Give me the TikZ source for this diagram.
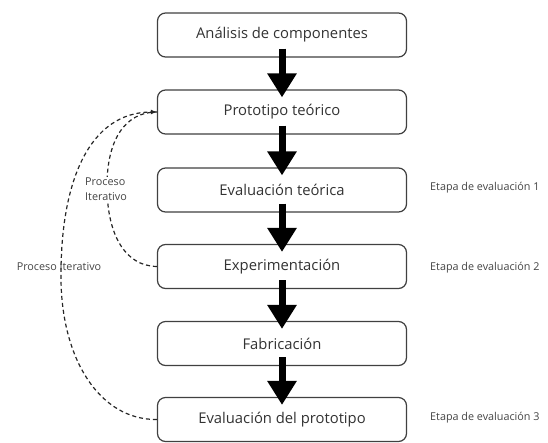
\documentclass[tikz,border=0pt]{standalone}
\usepackage{fontspec}
\setmainfont{Open Sans}
\usetikzlibrary{arrows.meta}
\definecolor{boxtext}{HTML}{333333}
\definecolor{lbl}{HTML}{444444}
\tikzset{
  stepbox/.style={draw=black!75, line width=1.2pt, rounded corners=8pt, fill=white,
    minimum width=249pt, minimum height=44pt, inner sep=0pt,
    font=\fontsize{14.8}{16}\selectfont, text=boxtext},
  bigarrow/.style={line width=7pt, -{Triangle[width=28pt,length=24pt]}, black},
  loop/.style={dash pattern=on 4pt off 3pt, line width=1.2pt, black!85},
  sidelbl/.style={font=\fontsize{10.8}{12}\selectfont, text=lbl, inner sep=1pt},
}
\begin{document}
\begin{tikzpicture}[x=1pt,y=-1pt]
\useasboundingbox (0,0) rectangle (548,442);
\node[stepbox] (a) at (282,35) {Análisis de componentes};
\node[stepbox] (p) at (282,112) {Prototipo teórico};
\node[stepbox] (e) at (282,190) {Evaluación teórica};
\node[stepbox] (x) at (282,266.5) {Experimentación};
\node[stepbox] (f) at (282,343.5) {Fabricación};
\node[stepbox] (v) at (282,419.5) {Evaluación del prototipo};
\foreach \s/\t in {a/p,p/e,e/x,x/f,f/v}
  \draw[bigarrow] ([yshift=9pt]\s.south) -- ([yshift=-8pt]\t.north);
% loops
\draw[loop,-{Latex[length=6pt,width=5pt]}] (v.west) .. controls (100,420) and (62,360) .. (61,280)
  .. controls (60,180) and (90,112) .. (p.west);
\draw[loop] (x.west) .. controls (125,266) and (108,235) .. (107,190)
  .. controls (106,140) and (125,112) .. (p.west);
\node[sidelbl, fill=white, align=left, font=\fontsize{10.8}{15}\selectfont] (l1) at (106,189.5) {Proceso\\Iterativo};
\node[sidelbl] (l2) at (59,267) {Proceso Iterativo};
\node[sidelbl, anchor=west] (s1) at (429,188) {Etapa de evaluación 1};
\node[sidelbl, anchor=west] (s2) at (429,268) {Etapa de evaluación 2};
\node[sidelbl, anchor=west] (s3) at (429,418) {Etapa de evaluación 3};
\end{tikzpicture}
\end{document}
